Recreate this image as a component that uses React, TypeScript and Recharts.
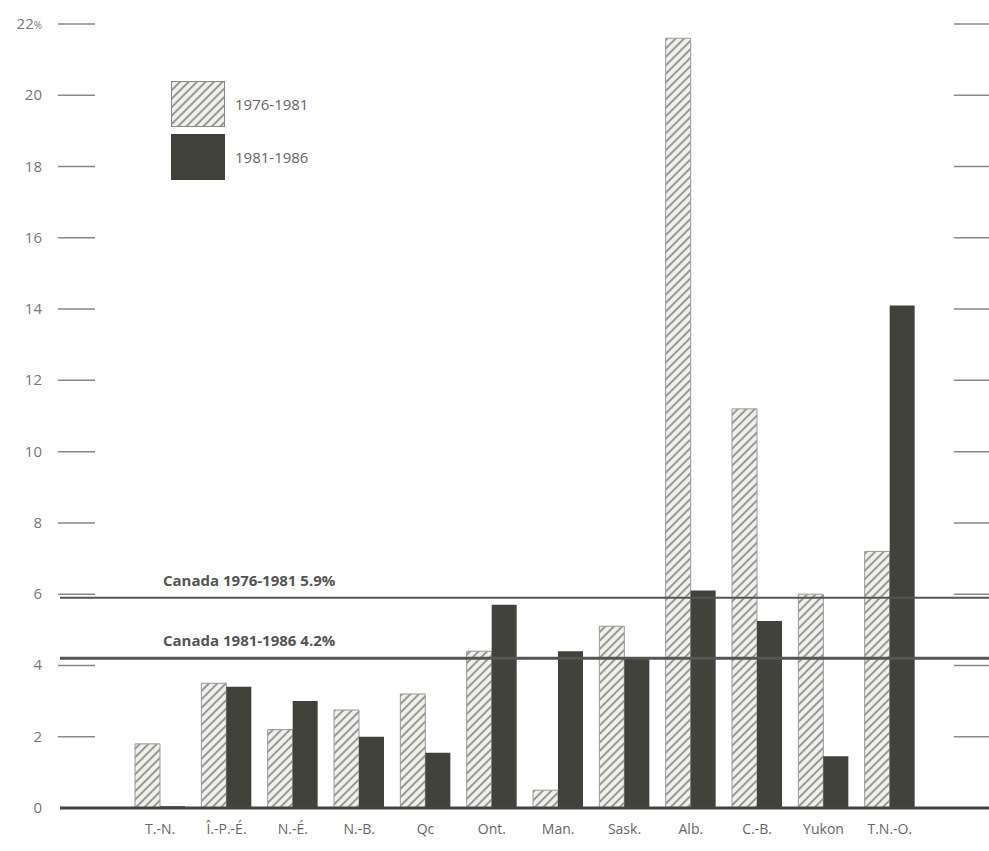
import { Bar, BarChart, ReferenceLine, XAxis, YAxis } from "recharts";

const provinces = ["T.-N.", "Î.-P.-É.", "N.-É.", "N.-B.", "Qc", "Ont.", "Man.", "Sask.", "Alb.", "C.-B.", "Yukon", "T.N.-O."];
const growth7681 = [1.8, 3.5, 2.2, 2.75, 3.2, 4.4, 0.5, 5.1, 21.6, 11.2, 6.0, 7.2];
const growth8186 = [0.05, 3.4, 3.0, 2.0, 1.55, 5.7, 4.4, 4.2, 6.1, 5.25, 1.45, 14.1];
const yTicks = [0, 2, 4, 6, 8, 10, 12, 14, 16, 18, 20, 22];
const periods = ["1976-1981", "1981-1986"];
const canadaAverages = [
  { period: "1976-1981", value: 5.9 },
  { period: "1981-1986", value: 4.2 },
];

const data = provinces.map((p, i) => ({
  name: p,
  a: growth7681[i],
  b: growth8186[i],
}));

const FONT = "'Open Sans', 'DejaVu Sans', sans-serif";
const DARK = "#41423c";

function HatchDef({ id }: { id: string }) {
  return (
    <pattern id={id} patternUnits="userSpaceOnUse" width={6} height={6} patternTransform="rotate(45)">
      <rect width={6} height={6} fill="#efefec" />
      <line x1={1} y1={0} x2={1} y2={6} stroke="#8f8f8a" strokeWidth={1.8} />
    </pattern>
  );
}

function YTick(props: any) {
  const { y, payload } = props;
  const isTop = payload.value === 22;
  const isZero = payload.value === 0;
  return (
    <g>
      <text x={42} y={y} dy={5} textAnchor="end" fontSize={15} fill="#777" fontFamily={FONT}>
        {payload.value}
        {isTop && <tspan fontSize={10}>%</tspan>}
      </text>
      {!isZero && <line x1={58} x2={95} y1={y} y2={y} stroke="#888" strokeWidth={1.5} />}
      {!isZero && <line x1={954} x2={989} y1={y} y2={y} stroke="#888" strokeWidth={1.5} />}
    </g>
  );
}

function canadaLabel(avg: { period: string; value: number }) {
  return (props: any) => {
    const { viewBox } = props;
    return (
      <text
        x={viewBox.x + 103}
        y={viewBox.y - 12}
        fontSize={15}
        fontWeight="bold"
        fill="#555"
        fontFamily={FONT}
      >
        {`Canada ${avg.period}  ${avg.value}%`}
      </text>
    );
  };
}

function LegendBox() {
  return (
    <div
      style={{
        position: "absolute",
        left: 171,
        top: 77,
        fontFamily: FONT,
        fontSize: 15,
        color: "#666",
      }}
    >
      {periods.map((p, i) => (
        <div key={p} style={{ display: "flex", alignItems: "center", height: 53 }}>
          <svg width={54} height={46} style={{ marginRight: 10 }}>
            <defs>
              <HatchDef id="hatchLegend" />
            </defs>
            <rect
              x={0.5}
              y={0.5}
              width={53}
              height={45}
              fill={i === 0 ? "url(#hatchLegend)" : DARK}
              stroke={i === 0 ? "#888" : DARK}
            />
          </svg>
          <span>{p}</span>
        </div>
      ))}
    </div>
  );
}

export default function App() {
  return (
    <div style={{ position: "absolute", left: 0, top: 0, width: 989, height: 851, background: "#fff" }}>
      <BarChart
        width={989}
        height={851}
        data={data}
        margin={{ top: 24, right: 0, bottom: 0, left: 0 }}
        barGap={0}
        barSize={25}
      >
        <defs>
          <HatchDef id="hatch" />
        </defs>
        <XAxis
          dataKey="name"
          height={43}
          axisLine={false}
          tickLine={false}
          tickMargin={10}
          interval={0}
          padding={{ left: 67, right: 66 }}
          tick={{ fontSize: 14, fill: "#666", fontFamily: FONT }}
        />
        <YAxis
          width={60}
          domain={[0, 22]}
          ticks={yTicks}
          axisLine={false}
          tickLine={false}
          tick={<YTick />}
          interval={0}
        />
        {canadaAverages.map((avg, i) => (
          <ReferenceLine
            key={avg.period}
            y={avg.value}
            stroke="#555"
            strokeWidth={i === 0 ? 2 : 3}
            label={canadaLabel(avg)}
          />
        ))}
        <Bar dataKey="a" name={periods[0]} fill="url(#hatch)" stroke="#999" strokeWidth={1} isAnimationActive={false} />
        <Bar dataKey="b" name={periods[1]} fill={DARK} isAnimationActive={false} />
        <ReferenceLine y={0} stroke="#444" strokeWidth={3} />
      </BarChart>
      <LegendBox />
    </div>
  );
}
